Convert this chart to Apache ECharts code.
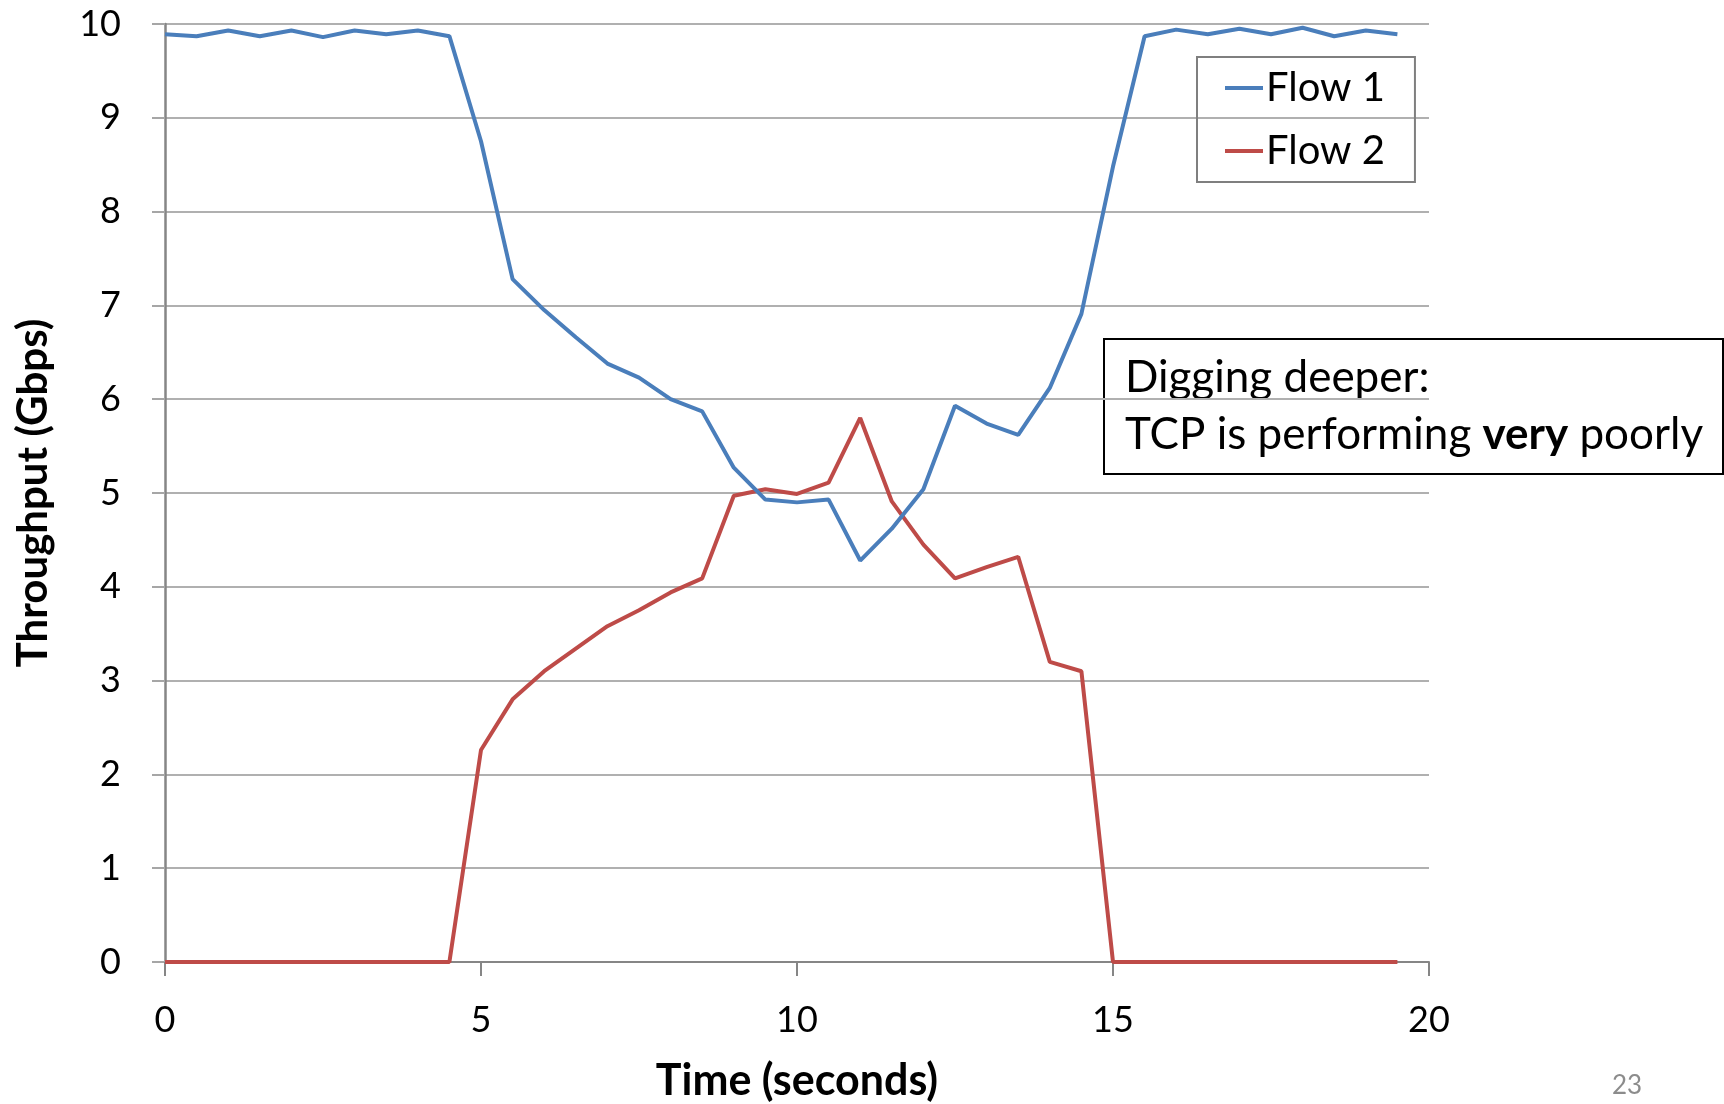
<!DOCTYPE html>
<html>
<head>
<meta charset="utf-8">
<title>Throughput</title>
<script src="https://cdn.jsdelivr.net/npm/echarts@6/dist/echarts.min.js"></script>
<style>
  html, body { margin: 0; padding: 0; background: #fff; }
  #chart { width: 1724px; height: 1104px; }
</style>
</head>
<body>
<div id="chart"></div>
<script>
// sample times, seconds
const times = [0, 0.5, 1, 1.5, 2, 2.5, 3, 3.5, 4, 4.5,
  5, 5.5, 6, 6.5, 7, 7.5, 8, 8.5, 9, 9.5,
  10, 10.5, 11, 11.5, 12, 12.5, 13, 13.5, 14, 14.5,
  15, 15.5, 16, 16.5, 17, 17.5, 18, 18.5, 19, 19.5];

// throughput, Gbps
const flow1 = [9.89, 9.87, 9.93, 9.87, 9.93, 9.86, 9.93, 9.89, 9.93, 9.87,
  8.75, 7.28, 6.95, 6.66, 6.38, 6.23, 6.0, 5.87, 5.27, 4.93,
  4.90, 4.93, 4.28, 4.62, 5.04, 5.93, 5.74, 5.62, 6.12, 6.91,
  8.48, 9.87, 9.94, 9.89, 9.95, 9.89, 9.96, 9.87, 9.93, 9.89];
const flow2 = [0, 0, 0, 0, 0, 0, 0, 0, 0, 0,
  2.26, 2.80, 3.10, 3.34, 3.58, 3.75, 3.94, 4.09, 4.97, 5.04,
  4.99, 5.11, 5.80, 4.91, 4.45, 4.09, 4.21, 4.32, 3.20, 3.10,
  0, 0, 0, 0, 0, 0, 0, 0, 0, 0];

const seriesNames = ["Flow 1", "Flow 2"];
const font = "Lato, 'Open Sans', sans-serif";

const pairs = (ys) => times.map((t, i) => [t, ys[i]]);

const chart = echarts.init(document.getElementById("chart"));
chart.setOption({
  backgroundColor: "#ffffff",
  animation: false,
  textStyle: { fontFamily: font },
  grid: { left: 165, right: 295, top: 24, bottom: 142, outerBoundsMode: "none" },
  legend: {
    orient: "vertical",
    left: 1197,
    top: 57,
    padding: [11, 30, 11, 28],
    borderColor: "#7f7f7f",
    borderWidth: 2,
    itemGap: 23,
    itemWidth: 38,
    itemHeight: 4,
    icon: "rect",
    textStyle: { fontFamily: font, fontSize: 40, color: "#000", lineHeight: 40, padding: [0, 0, 0, -2] },
    data: seriesNames,
  },
  xAxis: {
    type: "value",
    min: 0,
    max: 20,
    interval: 5,
    name: "Time (seconds)",
    nameLocation: "middle",
    nameGap: 98,
    nameTextStyle: { fontFamily: font, fontSize: 43, fontWeight: "bold", color: "#000" },
    axisLine: { lineStyle: { color: "#868686", width: 2 } },
    axisTick: { length: 14, lineStyle: { color: "#868686", width: 2 } },
    splitLine: { show: false },
    axisLabel: { margin: 40, fontSize: 36, color: "#000", fontFamily: font },
  },
  yAxis: {
    type: "value",
    min: 0,
    max: 10,
    interval: 1,
    name: "Throughput (Gbps)",
    nameLocation: "middle",
    nameGap: 111,
    nameTextStyle: { fontFamily: font, fontSize: 42, fontWeight: "bold", color: "#000" },
    axisLine: { show: true, lineStyle: { color: "#868686", width: 2.5 } },
    axisTick: { show: true, length: 13, lineStyle: { color: "#a6a6a6", width: 2 } },
    splitLine: { lineStyle: { color: "#b0b0b0", width: 2 } },
    axisLabel: { margin: 44, fontSize: 36, color: "#000", fontFamily: font },
  },
  series: [
    {
      name: seriesNames[0],
      type: "line",
      data: pairs(flow1),
      showSymbol: false,
      color: "#4a7ebb",
      lineStyle: { width: 4, color: "#4a7ebb" },
      z: 3,
    },
    {
      name: seriesNames[1],
      type: "line",
      data: pairs(flow2),
      showSymbol: false,
      color: "#be4b48",
      lineStyle: { width: 4, color: "#be4b48" },
      z: 2,
    },
  ],
  graphic: [
    {
      type: "group",
      left: 1103,
      top: 338,
      z: 10,
      children: [
        {
          type: "rect",
          shape: { x: 0, y: 0, width: 619, height: 135 },
          style: { fill: "#fff", stroke: "#000", lineWidth: 2 },
        },
        {
          type: "text",
          x: 21,
          y: 10,
          style: {
            text: "Digging deeper:\nTCP is performing {b|very} poorly",
            font: "44px " + font,
            fill: "#000",
            lineHeight: 57,
            rich: { b: { fontWeight: "bold", fontSize: 44, fontFamily: font, lineHeight: 57 } },
          },
        },
      ],
    },
    {
      type: "text",
      left: 1612,
      top: 1073,
      style: { text: "23", font: "26px " + font, fill: "#8c8c8c" },
    },
  ],
});
</script>
</body>
</html>
